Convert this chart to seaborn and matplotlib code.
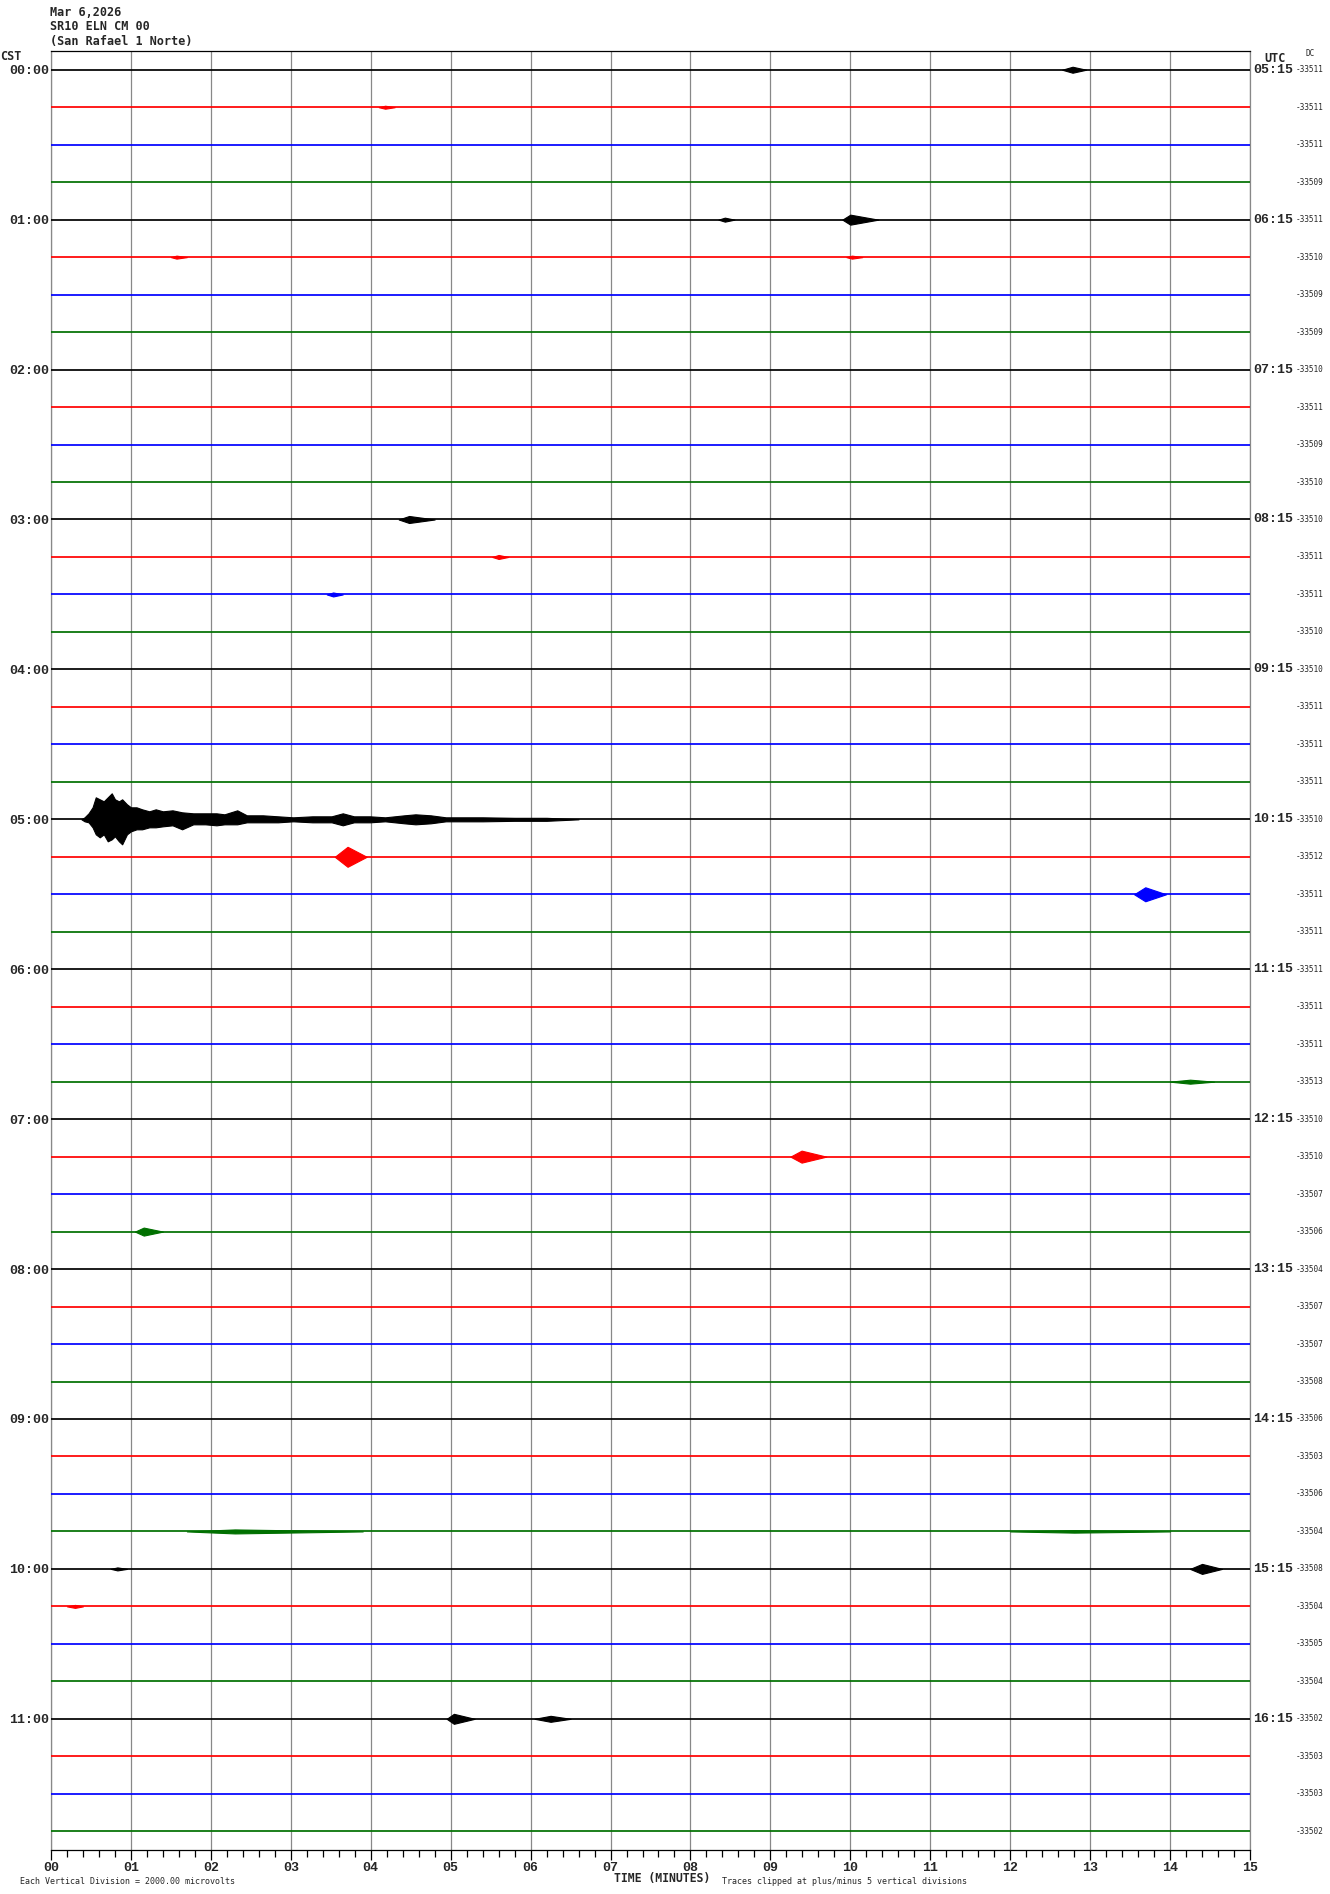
import numpy as np
import pandas as pd
import matplotlib
matplotlib.use("Agg")
import matplotlib.pyplot as plt
from matplotlib.ticker import MultipleLocator
import seaborn as sns

n_rows = 48
cst_labels = ["00:00", "01:00", "02:00", "03:00", "04:00", "05:00",
              "06:00", "07:00", "08:00", "09:00", "10:00", "11:00"]
utc_labels = ["05:15", "06:15", "07:15", "08:15", "09:15", "10:15",
              "11:15", "12:15", "13:15", "14:15", "15:15", "16:15"]
dc_values = [-33511, -33511, -33511, -33509, -33511, -33510, -33509, -33509,
             -33510, -33511, -33509, -33510, -33510, -33511, -33511, -33510,
             -33510, -33511, -33511, -33511, -33510, -33512, -33511, -33511,
             -33511, -33511, -33511, -33513, -33510, -33510, -33507, -33506,
             -33504, -33507, -33507, -33508, -33506, -33503, -33506, -33504,
             -33508, -33504, -33505, -33504, -33502, -33503, -33503, -33502]
channel_names = ["black", "red", "blue", "green"]
channel_colors = ["#000000", "#ff0000", "#0000ff", "#007000"]

# big local event on the 05:00 line (amplitudes in screen pixels)
big_row = 20
big_t = [0.38, 0.42, 0.47, 0.52, 0.56, 0.61, 0.66, 0.71, 0.76, 0.80,
         0.85, 0.89, 0.95, 1.00, 1.07, 1.14, 1.23, 1.31, 1.40, 1.52,
         1.64, 1.78, 1.93, 2.07, 2.17, 2.33, 2.45, 2.65, 2.84, 3.03,
         3.27, 3.51, 3.65, 3.79, 3.99, 4.18, 4.42, 4.56, 4.75, 4.94,
         5.13, 5.40, 5.80, 6.20, 6.60]
big_up = [0, 2, 6, 12, 22, 20, 18, 22, 26, 20,
          18, 20, 15, 12, 12, 10, 8, 10, 8, 9,
          7, 6, 6, 6, 5, 9, 4, 4, 3, 2,
          3, 3, 6, 3, 3, 2, 4, 5, 4, 2,
          2, 2, 1.5, 1.5, 0]
big_dn = [0, 2, 3, 8, 15, 18, 15, 22, 20, 17,
          22, 25, 15, 12, 10, 10, 8, 8, 7, 6,
          10, 5, 5, 6, 5, 5, 3, 3, 3, 2,
          3, 3, 6, 3, 3, 2, 4, 5, 4, 2,
          2, 2, 1.5, 1.5, 0]

# smaller bursts: row, onset, peak, end (minutes), peak amplitude (pixels)
ev_row = [0, 1, 4, 4, 5, 5, 12, 13, 14, 21, 22, 27, 29, 31, 39, 39, 40, 40, 41, 44, 44]
ev_start = [12.65, 4.10, 9.90, 8.35, 1.50, 9.95, 4.35, 5.52, 3.45, 3.55, 13.55,
            14.00, 9.25, 1.05, 1.70, 12.00, 14.25, 0.75, 0.20, 4.95, 6.05]
ev_peak = [12.78, 4.18, 10.00, 8.43, 1.57, 10.02, 4.48, 5.60, 3.53, 3.71, 13.69,
           14.25, 9.39, 1.16, 2.30, 12.80, 14.40, 0.83, 0.30, 5.04, 6.25]
ev_end = [12.95, 4.30, 10.35, 8.55, 1.70, 10.15, 4.80, 5.72, 3.65, 3.95, 13.95,
          14.55, 9.70, 1.40, 3.90, 14.00, 14.65, 0.95, 0.40, 5.30, 6.50]
ev_amp = [3, 1.5, 5, 2, 1.5, 1.5, 3.5, 2, 2, 10, 7,
          2, 6, 4, 2, 1.2, 5, 1.5, 1.5, 5, 3]

# --- figure -----------------------------------------------------------------
W, H = 1330, 1894
px_row = 1799 / n_rows  # pixels per trace line

sns.set_theme(style="white")
plt.rcParams["font.family"] = ["DejaVu Sans Mono", "DejaVu Sans"]

fig = plt.figure(figsize=(W / 100, H / 100), dpi=100)
fig.patch.set_facecolor("white")
ax = fig.add_axes([51 / W, 1 - 1850 / H, 1199 / W, 1799 / H])

rows = np.arange(n_rows)
base = pd.DataFrame({
    "minute": np.tile([0.0, 15.0], n_rows),
    "row": np.repeat(rows, 2),
})
base["channel"] = [channel_names[r % 4] for r in base["row"]]
sns.lineplot(data=base, x="minute", y="row", hue="channel", units="row",
             estimator=None, palette=dict(zip(channel_names, channel_colors)),
             linewidth=1.25, legend=False, ax=ax, zorder=3)

# big event
ax.fill_between(big_t, big_row - np.array(big_up) / px_row,
                big_row + np.array(big_dn) / px_row,
                color=channel_colors[big_row % 4], lw=0.8, zorder=4)

# small bursts
for r, a, p, b, amp in zip(ev_row, ev_start, ev_peak, ev_end, ev_amp):
    c = channel_colors[r % 4]
    h = amp / px_row
    ax.fill_between([a, p, b], [r, r - h, r], [r, r + h, r],
                    color=c, lw=0.8, zorder=4)

# axes styling
ax.set_xlim(0, 15)
ax.set_ylim(n_rows - 0.5, -0.5)
ax.set_xlabel("")
ax.set_ylabel("")
ax.xaxis.set_major_locator(MultipleLocator(1))
ax.xaxis.set_minor_locator(MultipleLocator(0.2))
ax.set_xticks(range(16))
ax.set_xticklabels([f"{m:02d}" for m in range(16)],
                   family="Liberation Mono", weight="bold", fontsize=9.5)
ax.tick_params(axis="x", which="major", direction="out", length=7.2,
               width=0.9, color="black", pad=1.5, bottom=True)
ax.tick_params(axis="x", which="minor", direction="out", length=5,
               width=0.9, color="black", bottom=True)
ax.set_yticks(range(0, n_rows, 4))
ax.set_yticklabels(cst_labels, family="Liberation Mono", weight="bold",
                   fontsize=9.5)
ax.tick_params(axis="y", length=0, pad=1.2)
ax.xaxis.grid(True, which="major", color="#888888", lw=0.9)
ax.yaxis.grid(False)
ax.set_axisbelow(True)
for side in ["left", "right"]:
    ax.spines[side].set_color("#888888")
    ax.spines[side].set_linewidth(0.9)
for side in ["top", "bottom"]:
    ax.spines[side].set_color("black")
    ax.spines[side].set_linewidth(0.9)

ytr = ax.get_yaxis_transform()
for i, lab in enumerate(utc_labels):
    ax.text(1 + 3 / 1199, i * 4, lab, transform=ytr, ha="left", va="center",
            family="Liberation Mono", weight="bold", fontsize=9.5)
for i, dc in enumerate(dc_values):
    ax.text(1 + 46 / 1199, i, f"{dc}", transform=ytr, ha="left", va="center",
            fontsize=5.6)

# header and footer text
def ftxt(x, y, s, **kw):
    fig.text(x / W, 1 - y / H, s, **kw)

ftxt(50, 12.5, "Mar 6,2026", fontsize=8.5, weight="bold", va="center")
ftxt(50, 26.5, "SR10 ELN CM 00", fontsize=8.5, weight="bold", va="center")
ftxt(50, 41.5, "(San Rafael 1 Norte)", fontsize=8.5, weight="bold", va="center")
ftxt(0, 57, "CST", fontsize=8.5, weight="bold", va="center")
ftxt(1275, 58, "UTC", fontsize=8.5, weight="bold", va="center", ha="center")
ftxt(1310, 54, "DC", fontsize=5.6, va="center", ha="center")
ftxt(20, 1881, "Each Vertical Division = 2000.00 microvolts", fontsize=6,
     va="center")
ftxt(614, 1878, "TIME (MINUTES)", fontsize=8.3, weight="bold", va="center")
ftxt(722, 1881, "Traces clipped at plus/minus 5 vertical divisions",
     fontsize=6, va="center")

fig.savefig("out.png", dpi=100, facecolor="white")
